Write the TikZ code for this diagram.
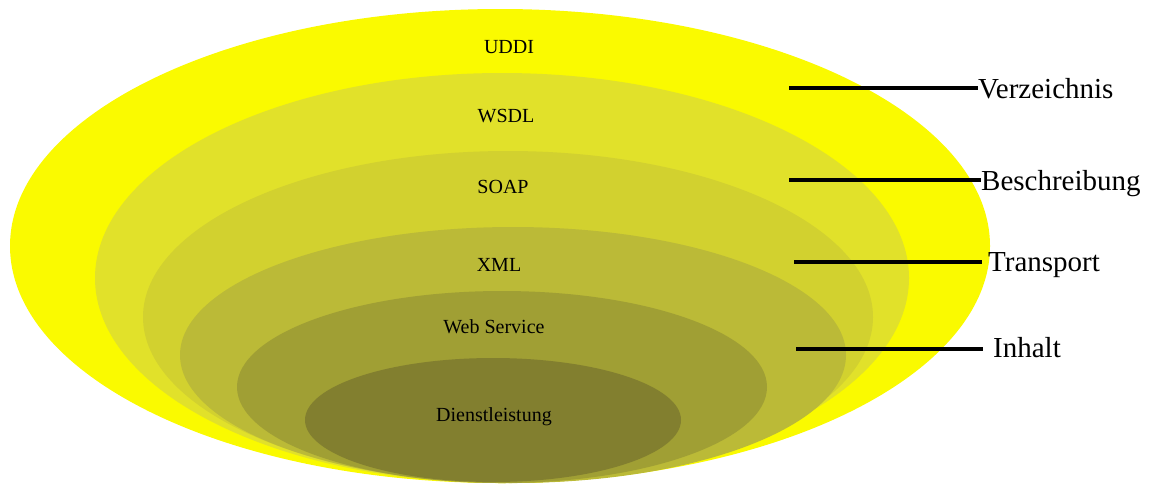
\documentclass[tikz,border=0pt]{standalone}
\usepackage{fontspec}
\setmainfont{Liberation Serif}
\definecolor{layerA}{HTML}{FAFA00}
\definecolor{layerB}{HTML}{E1E12A}
\definecolor{layerC}{HTML}{D2D12F}
\definecolor{layerD}{HTML}{BBBA37}
\definecolor{layerE}{HTML}{A09F34}
\definecolor{layerF}{HTML}{827F2F}
\tikzset{
  layertext/.style={font=\fontsize{20}{24}\selectfont, anchor=base, inner sep=0pt},
  sidetext/.style={font=\fontsize{29}{34}\selectfont, anchor=base west, inner sep=0pt},
  leader/.style={line width=4.5pt, black}
}
\begin{document}
\begin{tikzpicture}[x=1pt, y=-1pt]
  \useasboundingbox (0,0) rectangle (1150,483);
  \clip (0,0) rectangle (1150,483);
  % nested layers, largest first
  \fill[layerA] (500,246) ellipse [x radius=490, y radius=237];
  \fill[layerB] (502,278) ellipse [x radius=407, y radius=205];
  \fill[layerC] (508,317) ellipse [x radius=365, y radius=166];
  \fill[layerD] (513,355) ellipse [x radius=333, y radius=128];
  \fill[layerE] (502,387) ellipse [x radius=265, y radius=96];
  \fill[layerF] (493,420) ellipse [x radius=188, y radius=62];
  % layer names
  \node[layertext] (uddi)  at (509,53)  {UDDI};
  \node[layertext] (wsdl)  at (506,122) {WSDL};
  \node[layertext] (soap)  at (503,193) {SOAP};
  \node[layertext] (xml)   at (499,271) {XML};
  \node[layertext] (ws)    at (494,333) {Web Service};
  \node[layertext] (dl)    at (494,421) {Dienstleistung};
  % side captions
  \node[sidetext] (verz)  at (978,98)  {Verzeichnis};
  \node[sidetext] (besch) at (981,190) {Beschreibung};
  \node[sidetext] (trans) at (988,271) {Transport};
  \node[sidetext] (inh)   at (993,357) {Inhalt};
  % leader lines
  \coordinate (p1) at (789,88);
  \coordinate (p2) at (789,180);
  \coordinate (p3) at (794,262);
  \coordinate (p4) at (796,349);
  \draw[leader] (p1) -- (p1 -| verz.west);
  \draw[leader] (p2) -- (p2 -| besch.west);
  \draw[leader] (p3) -- ([xshift=-6pt]p3 -| trans.west);
  \draw[leader] (p4) -- ([xshift=-10pt]p4 -| inh.west);
\end{tikzpicture}
\end{document}
